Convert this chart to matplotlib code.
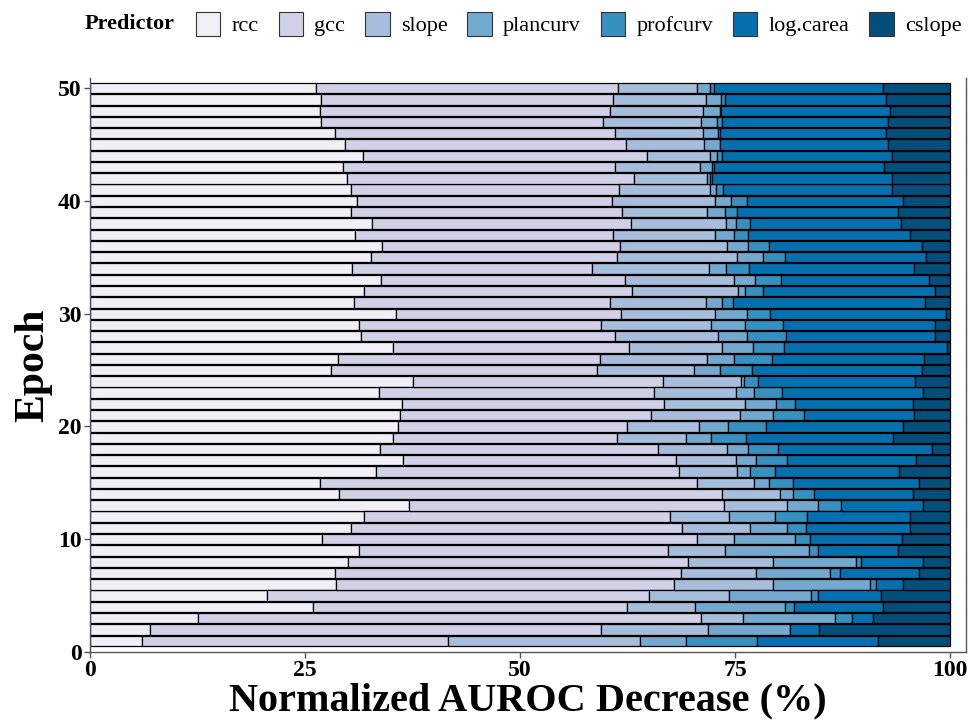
import matplotlib
matplotlib.use("Agg")
import matplotlib.pyplot as plt
from matplotlib.patches import Patch
import numpy as np

plt.rcParams['font.family'] = ['Liberation Serif', 'DejaVu Serif']

predictors = ['rcc', 'gcc', 'slope', 'plancurv', 'profcurv', 'log.carea', 'cslope']
col = ['#f1eef6', '#d0d1e6', '#a6bddb', '#74a9cf', '#3690c0', '#0570b0', '#034e7b']

epochs = list(range(1, 51))

# normalized AUROC decrease (%) per predictor, epoch 1..50
rcc = [6.1, 7.0, 12.6, 25.9, 20.6, 28.6, 28.5, 30.0, 31.3, 27.0,
       30.4, 31.9, 37.1, 28.9, 26.7, 33.3, 36.4, 33.7, 35.2, 35.8,
       36.0, 36.3, 33.6, 37.5, 28.0, 28.8, 35.2, 31.5, 31.3, 35.6,
       30.7, 31.9, 33.8, 30.5, 32.7, 33.9, 30.8, 32.8, 30.3, 31.0,
       30.4, 29.9, 29.4, 31.8, 29.7, 28.5, 26.9, 26.7, 26.9, 26.3]
gcc = [35.5, 52.4, 58.5, 36.5, 44.4, 39.3, 40.2, 39.5, 35.9, 43.6,
       38.4, 35.5, 36.6, 44.6, 43.9, 35.2, 31.7, 32.4, 26.1, 26.6,
       29.2, 30.4, 32.0, 29.1, 31.0, 30.5, 27.5, 29.5, 28.1, 26.2,
       29.8, 31.1, 28.4, 27.9, 28.6, 27.7, 30.0, 30.1, 31.6, 29.7,
       31.1, 33.3, 31.6, 33.0, 32.6, 32.5, 32.7, 33.8, 33.9, 35.1]
slope = [22.4, 12.5, 4.8, 8.0, 9.3, 11.5, 8.7, 9.9, 6.6, 4.3,
         8.0, 6.9, 7.4, 6.7, 6.6, 6.7, 7.0, 8.0, 8.0, 8.4,
         10.4, 9.5, 9.5, 9.1, 11.2, 12.5, 10.8, 12.0, 12.8, 10.9,
         11.1, 12.4, 12.7, 13.6, 13.9, 12.5, 11.9, 11.0, 9.8, 12.0,
         10.6, 8.6, 9.9, 7.3, 9.1, 10.3, 11.5, 10.8, 10.8, 9.2]
plancurv = [5.3, 9.5, 10.7, 10.4, 9.5, 11.3, 8.7, 9.7, 9.8, 7.1,
            4.3, 5.4, 3.6, 1.6, 1.7, 1.6, 2.3, 2.4, 2.9, 3.4,
            3.8, 3.6, 2.1, 0.4, 3.1, 3.1, 3.6, 3.4, 4.0, 3.7,
            1.9, 0.8, 2.4, 1.9, 3.1, 2.4, 2.2, 1.2, 2.1, 1.8,
            0.7, 0.3, 1.4, 0.8, 1.8, 1.7, 1.8, 1.9, 1.8, 1.5]
profcurv = [8.2, 0.0, 2.0, 1.1, 0.9, 0.7, 1.1, 0.5, 1.1, 1.7,
            2.1, 3.7, 2.6, 2.4, 2.8, 2.9, 3.7, 3.5, 4.1, 4.4,
            3.6, 2.2, 3.3, 1.6, 3.7, 4.4, 3.6, 4.5, 4.4, 2.7,
            1.3, 2.0, 3.1, 2.7, 2.5, 2.4, 1.6, 1.7, 1.4, 1.9,
            0.8, 0.2, 0.2, 0.6, 0.1, 0.3, 0.6, 0.2, 0.4, 0.4]
log_carea = [14.1, 3.4, 2.5, 10.3, 7.3, 3.1, 9.2, 7.3, 9.2, 10.7,
             12.1, 11.9, 9.6, 11.5, 14.7, 14.4, 15.0, 17.9, 17.1, 15.9,
             12.8, 13.7, 16.4, 18.2, 19.8, 17.7, 18.9, 17.4, 17.7, 20.4,
             22.3, 20.1, 17.2, 19.2, 16.4, 17.8, 18.9, 17.5, 18.7, 18.1,
             19.6, 20.9, 19.8, 19.7, 19.5, 19.2, 19.3, 19.6, 18.7, 19.7]
cslope = [8.4, 15.2, 8.9, 7.8, 8.0, 5.5, 3.6, 3.1, 6.1, 5.6,
          4.7, 4.7, 3.1, 4.3, 3.6, 5.9, 3.9, 2.1, 6.6, 5.5,
          4.2, 4.3, 3.1, 4.1, 3.2, 3.0, 0.4, 1.7, 1.7, 0.5,
          2.9, 1.7, 2.4, 4.2, 2.8, 3.3, 4.6, 5.7, 6.1, 5.5,
          6.8, 6.8, 7.7, 6.8, 7.2, 7.5, 7.2, 7.0, 7.5, 7.8]

series = [rcc, gcc, slope, plancurv, profcurv, log_carea, cslope]

fig = plt.figure(figsize=(9.79, 7.22), dpi=100)
ax = fig.add_axes([90/979, 1-652/722, 876/979, 574/722])

left = np.zeros(len(epochs))
for vals, c in zip(series, col):
    vals = np.array(vals)
    ax.barh(epochs, vals, left=left, height=0.92, color=c,
            edgecolor='black', linewidth=0.9)
    left = left + vals

ax.set_xlim(0, 101.86)
ax.set_ylim(0, 50.9)
ax.set_xticks([0, 25, 50, 75, 100])
ax.set_yticks([0, 10, 20, 30, 40, 50])
ax.spines['top'].set_visible(False)
for s in ['left', 'bottom', 'right']:
    ax.spines[s].set_color('#555555')
    ax.spines[s].set_linewidth(1.0)
ax.tick_params(length=4, width=1, color='#555555', labelsize=17, pad=2)
for lab in ax.get_xticklabels() + ax.get_yticklabels():
    lab.set_fontweight('bold')

ax.set_xlabel('Normalized AUROC Decrease (%)', fontsize=29, fontweight='bold', labelpad=1)
ax.set_ylabel('Epoch', fontsize=30, fontweight='bold', labelpad=4)

fig.text(85/979, 1-24/722, 'Predictor', fontsize=16, fontweight='bold', va='center', ha='left')
handles = [Patch(facecolor=c, edgecolor='#333333', linewidth=0.8) for c in col]
fig.legend(handles, predictors, loc='center left', bbox_to_anchor=(196/979, 1-24/722),
           ncol=7, frameon=False, fontsize=16, handlelength=1.1, handleheight=1.3,
           handletextpad=0.5, columnspacing=0.9, borderpad=0, borderaxespad=0)

fig.savefig('out.png', dpi=100)
